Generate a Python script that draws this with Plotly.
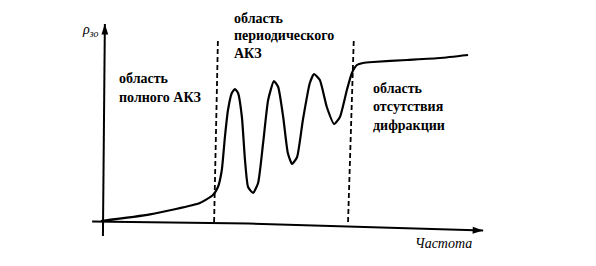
import plotly.graph_objects as go

# ---- data (chart units: frequency f, level a) ----
freq = [0, 12.7, 25.6, 29.0, 30.3, 31.3, 32.1, 32.9, 33.9, 34.7, 35.5, 36.5, 37.3, 38.1,
        39.4, 40.7, 42.0, 43.3, 44.8, 45.9, 47.2, 48.4, 49.5, 50.8, 52.3, 54.1, 55.2,
        56.7, 58.5, 60.4, 61.9, 63.7, 65.0, 66.3, 67.9, 70.5, 79.3, 87.8, 95.1]
level = [0.5, 3.8, 9.5, 13.5, 17.5, 26, 42.5, 56, 64.5, 66.5, 64.5, 52.5, 31, 17.5,
         14.5, 19.5, 39.5, 61, 70.5, 67.5, 52.5, 34.5, 29, 32.5, 51, 69.5, 74,
         71, 57.5, 49, 52.5, 66, 74.5, 78.5, 79.5, 80, 81, 82, 83.5]

# region boundaries (bottom f, top f)
left_bound = [29.3, 30.3]
right_bound = [64.0, 65.5]
bound_levels = [0, 92]

# axis paths
xaxis_f = [-2.3, 38.3, 99.0]
xaxis_a = [0.2, -0.8, -4.3]
yaxis_f = [0.5, 1.0]
yaxis_a = [-7.0, 99.0]

region_left = ["область", "полного АКЗ"]
region_mid = ["область", "периодического", "АКЗ"]
region_right = ["область", "отсутствия", "дифракции"]
x_title = "Частота"
y_title = "ρ<sub>зо</sub>"

W, H = 596, 266
# pixel mapping helpers for layout
X0, SX = 101, 3.86
Y0, SY = 222, 2.0
def fx(px):
    return (px - X0) / SX
def fy(py):
    return (Y0 - py) / SY

SERIF = "Times New Roman, Liberation Serif, serif"

fig = go.Figure()

# curve
fig.add_trace(go.Scatter(x=freq, y=level, mode="lines",
                         line=dict(color="black", width=2.2, shape="spline", smoothing=0.5),
                         hoverinfo="skip", showlegend=False))
# dashed boundaries
for b in (left_bound, right_bound):
    fig.add_trace(go.Scatter(x=b, y=bound_levels, mode="lines",
                             line=dict(color="black", width=1.8, dash="5px,3px"),
                             hoverinfo="skip", showlegend=False))
# axes lines
fig.add_trace(go.Scatter(x=xaxis_f, y=xaxis_a, mode="lines",
                         line=dict(color="black", width=2),
                         hoverinfo="skip", showlegend=False))
fig.add_trace(go.Scatter(x=yaxis_f, y=yaxis_a, mode="lines",
                         line=dict(color="black", width=2),
                         hoverinfo="skip", showlegend=False))
# arrowheads
fig.add_trace(go.Scatter(x=[yaxis_f[-1], xaxis_f[-1]], y=[yaxis_a[-1], xaxis_a[-1]],
                         mode="markers",
                         marker=dict(symbol="arrow", size=11, angle=[0, 92], color="black",
                                     line=dict(width=0)),
                         hoverinfo="skip", showlegend=False))

annots = []
font = dict(family=SERIF, size=14, color="black", weight="bold")

def add_block(lines, px, py_first, step):
    for i, t in enumerate(lines):
        annots.append(dict(x=fx(px), y=fy(py_first + i * step), xref="x", yref="y",
                           text=t, showarrow=False, xanchor="left", yanchor="middle",
                           font=font))

add_block(region_left, 117, 78, 19)
add_block(region_mid, 232, 18, 17.5)
add_block(region_right, 371, 88, 18.5)

annots.append(dict(x=fx(413), y=fy(243), xref="x", yref="y", text="<i>" + x_title + "</i>",
                   showarrow=False, xanchor="left", yanchor="middle",
                   font=dict(family=SERIF, size=14, color="black")))
annots.append(dict(x=fx(100), y=fy(30), xref="x", yref="y", text="<i>" + y_title + "</i>",
                   showarrow=False, xanchor="right", yanchor="middle",
                   font=dict(family=SERIF, size=14, color="black")))

fig.update_layout(
    width=W, height=H, autosize=False,
    margin=dict(l=0, r=0, t=0, b=0),
    paper_bgcolor="white", plot_bgcolor="white",
    font=dict(family=SERIF),
    xaxis=dict(range=[fx(0), fx(W)], visible=False, fixedrange=True),
    yaxis=dict(range=[fy(H), fy(0)], visible=False, fixedrange=True),
    annotations=annots,
    showlegend=False,
)

fig.write_html("out.html")
